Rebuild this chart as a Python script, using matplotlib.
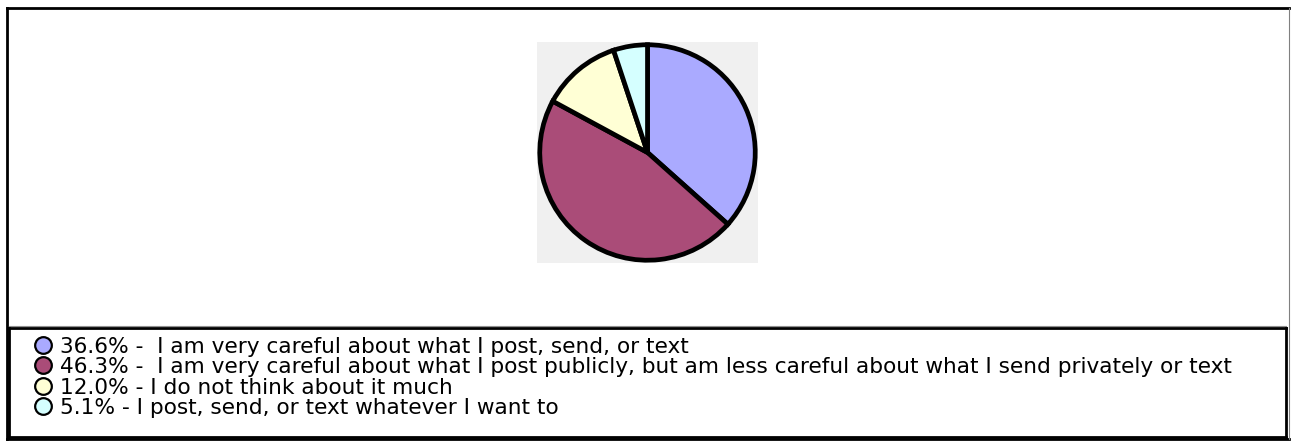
import matplotlib
matplotlib.use("Agg")
import matplotlib.pyplot as plt
from matplotlib.lines import Line2D

# Survey responses
shares = [36.6, 46.3, 12.0, 5.1]
answers = [
    "I am very careful about what I post, send, or text",
    "I am very careful about what I post publicly, but am less careful about what I send privately or text",
    "I do not think about it much",
    "I post, send, or text whatever I want to",
]
separators = [" -  ", " -  ", " - ", " - "]
colors = ["#AAAAFF", "#AA4C78", "#FFFFD5", "#D5FFFF"]

W, H = 1291, 442
fig = plt.figure(figsize=(W / 100, H / 100), dpi=100)
plt.rcParams["font.family"] = ["DejaVu Sans"]


def fx(x):
    return x / W


def fy(y):
    return 1 - y / H


def hline(x0, x1, y, color="black", lw=2.0):
    fig.add_artist(Line2D([fx(x0), fx(x1)], [fy(y), fy(y)], color=color,
                          lw=lw, transform=fig.transFigure, solid_capstyle="projecting"))


def vline(x, y0, y1, color="black", lw=2.0):
    fig.add_artist(Line2D([fx(x), fx(x)], [fy(y0), fy(y1)], color=color,
                          lw=lw, transform=fig.transFigure, solid_capstyle="projecting"))


# Outer frame
hline(7, 1289, 8, lw=2.0)
vline(7, 8, 439, lw=2.0)
hline(7, 1289, 439, lw=2.0)
vline(1289, 8, 439, color="#808080", lw=0.8)

# Pie plot area
pie_left, pie_top, pie_size = 537, 42, 221
ax = fig.add_axes([fx(pie_left), fy(pie_top + pie_size), pie_size / W, pie_size / H])
ax.pie(shares, colors=colors, startangle=90, counterclock=False, radius=0.975,
       wedgeprops=dict(edgecolor="black", linewidth=3.4, joinstyle="miter"))
ax.set_xlim(-1, 1)
ax.set_ylim(-1, 1)
ax.set_aspect("auto")
ax.set_frame_on(True)
ax.set_facecolor("#F0F0F0")
for s in ax.spines.values():
    s.set_visible(False)
ax.set_xticks([])
ax.set_yticks([])

# Legend box
hline(9, 1286, 326, color="#909090", lw=0.8)
hline(9, 1286, 328, lw=2.0)
hline(9, 1286, 437, lw=2.0)
vline(9, 328, 437, lw=2.0)
vline(1286, 328, 437, lw=2.0)

row_y = [345, 365, 386, 406]
for y, share, sep, answer, c in zip(row_y, shares, separators, answers, colors):
    fig.add_artist(Line2D([fx(43)], [fy(y)], marker="o", markersize=12,
                          markerfacecolor=c, markeredgecolor="black",
                          markeredgewidth=1.6, transform=fig.transFigure))
    fig.text(fx(60), fy(y), f"{share:.1f}%{sep}{answer}", fontsize=15.6,
             ha="left", va="center_baseline", color="black")

fig.savefig("out.png", dpi=100)
